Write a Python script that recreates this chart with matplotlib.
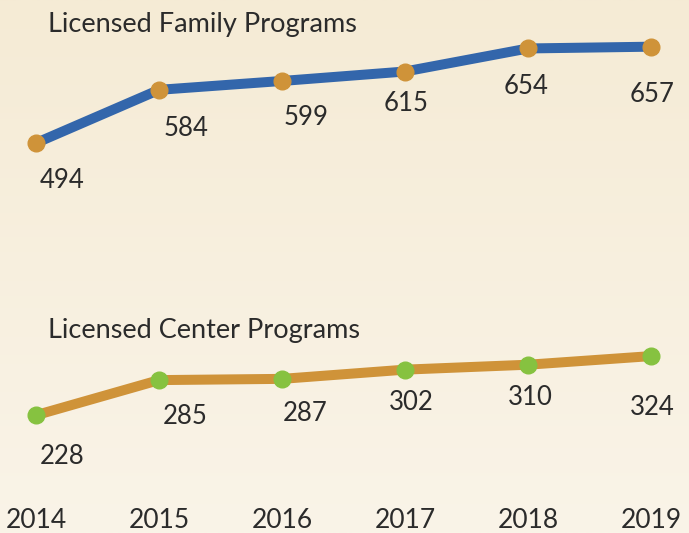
import numpy as np, matplotlib; matplotlib.use("Agg")
import matplotlib.pyplot as plt

years = ["2014", "2015", "2016", "2017", "2018", "2019"]
family = [494, 584, 599, 615, 654, 657]
center = [228, 285, 287, 302, 310, 324]

# label offsets (pixels) from each marker
fam_off = [(26, -37), (27, -39), (24, -37), (1, -32), (-2, -38), (1, -48)]
cen_off = [(26, -41), (26, -36), (23, -35), (6, -33), (2, -33), (1, -51)]

plt.rcParams["font.family"] = ["Lato", "DejaVu Sans"]
TXT = "#2b2b2b"
fig = plt.figure(figsize=(6.89, 5.33), dpi=100)

# background gradient
bg = fig.add_axes([0, 0, 1, 1], zorder=-10)
grad = np.linspace(0, 1, 256)[:, None]
top = np.array([245, 235, 213]) / 255; bot = np.array([250, 244, 232]) / 255
img = top[None, None, :] * (1 - grad[:, :, None]) + bot[None, None, :] * grad[:, :, None]
bg.imshow(img, aspect="auto", extent=[0, 1, 0, 1])
bg.axis("off")

x = np.arange(len(years))

def panel(rect, vals, ylim, lc, mc, offs, title, title_y):
    ax = fig.add_axes(rect)
    ax.patch.set_alpha(0)
    ax.plot(x, vals, color=lc, lw=7.2, solid_capstyle="butt", zorder=2)
    ax.plot(x, vals, "o", color=mc, ms=12, zorder=3)
    for xi, v, (dx, dy) in zip(x, vals, offs):
        ax.annotate(str(v), (xi, v), xytext=(dx, dy), textcoords="offset pixels",
                    ha="center", va="center", fontsize=18.5, color=TXT)
    ax.text(0.097, title_y, title, fontsize=19.5, color=TXT, ha="left", va="center")
    ax.set_xlim(-0.293, 5.309); ax.set_ylim(*ylim)
    for s in ax.spines.values(): s.set_visible(False)
    ax.set_yticks([])
    return ax

top_ax = panel([0, 0.531, 1, 0.469], family, (313, 736), "#3366ab", "#cf9339",
               fam_off, "Licensed Family Programs", 695)
top_ax.set_xticks([])
bot_ax = panel([0, 0.0525, 1, 0.4595], center, (82, 480), "#cf9339", "#86c240",
               cen_off, "Licensed Center Programs", 365)
bot_ax.set_xticks(x, years)
bot_ax.tick_params(axis="x", length=0, pad=2.5, labelsize=19, labelcolor=TXT)

fig.savefig("out.png", dpi=100)
